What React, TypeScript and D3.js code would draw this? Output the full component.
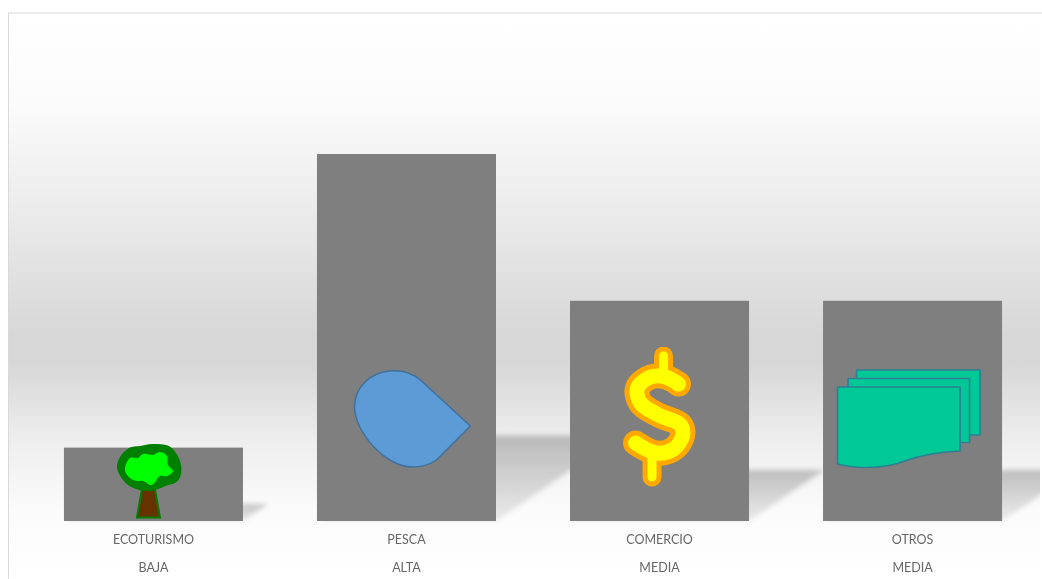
import React from "react";
import * as d3 from "d3";

const categories = ["ECOTURISMO", "PESCA", "COMERCIO", "OTROS"];
const levels = ["BAJA", "ALTA", "MEDIA", "MEDIA"];
const values = [1, 5, 3, 3];

const W = 1042, H = 579;
const BASE = 521;
const x = d3.scaleBand<string>().domain(categories).range([27, 1039]).paddingInner(0.2925).paddingOuter(0.146);
const y = d3.scaleLinear().domain([0, 5]).range([BASE, 154]);

const catmull = d3.line().curve(d3.curveCatmullRom.alpha(0.5));
const catmullClosed = d3.line().curve(d3.curveCatmullRomClosed.alpha(0.5));

// Icon outlines are local to the bar: origin = bar centre on the baseline
const crown: [number, number][] = [[-32.5,-56],[-23.5,-69],[-12.5,-71],[-0.5,-73],[14.5,-71],[23.5,-56],[21.5,-43],[11.5,-39],[-3.5,-34],[-19.5,-37],[-28.5,-45]];
const crownInner: [number, number][] = [[-28.5,-51],[-23.5,-63],[-15.5,-63],[-10.5,-67],[-0.5,-66],[6.5,-69],[13.5,-65],[14.5,-56],[19.5,-50],[13.5,-45],[6.5,-45],[-1.5,-36],[-10.5,-40],[-16.5,-40],[-23.5,-43]];
const dollar: [number, number][] = [[19,-137],[6,-144],[-9,-144],[-22,-133],[-19,-118],[-1,-106],[21,-96],[23,-85],[14,-72],[-3,-68],[-24,-78]];

function Tree() {
  return (
    <g>
      <path d="M-11.5,-32 L1.5,-32 L6.5,-3.5 L-16.5,-3.5 Z" fill="#663300" stroke="#007f00" strokeWidth={2} />
      <path d={catmullClosed(crown)!} fill="#007f00" stroke="#007f00" strokeWidth={8} strokeLinejoin="round" />
      <path d={catmullClosed(crownInner)!} fill="#00ff00" />
    </g>
  );
}
function Drop() {
  return (
    <path
      d="M63.8,-95 L14,-141 C4,-149 -8,-151 -17,-150 C-38,-148 -52,-132 -52,-114 C-52,-90 -22,-54 6,-54 C17,-54 24,-57 30,-61 Z"
      fill="#5b9bd5" stroke="#41719c" strokeWidth={1.5} strokeLinejoin="round"
    />
  );
}
function Dollar() {
  const s = catmull(dollar)!;
  const topBar = "M4,-165 L4,-146";
  const bottomBar = "M-7.5,-68 L-7.5,-44";
  return (
    <g fill="none" strokeLinecap="round" strokeLinejoin="round">
      <path d={`${topBar} ${bottomBar}`} stroke="#ffa800" strokeWidth={19} />
      <path d={s} stroke="#ffa800" strokeWidth={25} />
      <path d={`${topBar} ${bottomBar}`} stroke="#ffff00" strokeWidth={9} />
      <path d={s} stroke="#ffff00" strokeWidth={15} />
    </g>
  );
}
function Docs() {
  const st = { fill: "#00c896", stroke: "#2f7f94", strokeWidth: 1.6, strokeLinejoin: "round" as const };
  return (
    <g>
      <path d="M-56,-151 L67.5,-151 L67.5,-86 L-56,-86 Z" {...st} />
      <path d="M-64.5,-142.5 L57,-142.5 L57,-78.5 L-64.5,-78.5 Z" {...st} />
      <path d="M-75,-134 L47.5,-134 L47.5,-70 C25,-69 10,-66 -5,-61 C-22,-54 -35,-53 -50,-53.5 C-60,-54 -68,-55 -75,-57 Z" {...st} />
    </g>
  );
}
const icons = [Tree, Drop, Dollar, Docs];

export default function App() {
  const bw = x.bandwidth();
  const shadowPoints = (c: string, v: number) => {
    const x0 = x(c)!;
    const h = (BASE - y(v)) * 0.232;
    const dx = h / 0.68;
    return [[x0 + 2, BASE], [x0 + bw, BASE], [x0 + bw + dx, BASE - h], [x0 + 2 + dx, BASE - h]]
      .map((p) => p.join(",")).join(" ");
  };
  return (
    <svg width={W} height={H} style={{ position: "absolute", left: 0, top: 0, display: "block", background: "#fff" }}>
      <defs>
        <linearGradient id="bg" x1="0" y1="13" x2="0" y2="579" gradientUnits="userSpaceOnUse">
          <stop offset="0" stopColor="#ffffff" />
          <stop offset="0.16" stopColor="#fbfbfb" />
          <stop offset="0.34" stopColor="#ececec" />
          <stop offset="0.57" stopColor="#d7d7d7" />
          <stop offset="0.62" stopColor="#d7d7d7" />
          <stop offset="0.755" stopColor="#eeeeee" />
          <stop offset="0.88" stopColor="#fbfbfb" />
          <stop offset="1" stopColor="#ffffff" />
        </linearGradient>
        <linearGradient id="sh" x1="0" y1="0" x2="0" y2="1">
          <stop offset="0" stopColor="#000" stopOpacity={0.22} />
          <stop offset="1" stopColor="#000" stopOpacity={0.07} />
        </linearGradient>
        <filter id="blur" x="-20%" y="-20%" width="140%" height="140%">
          <feGaussianBlur stdDeviation={2.4} />
        </filter>
        <filter id="soft" x="-5%" y="-5%" width="110%" height="110%">
          <feGaussianBlur stdDeviation={0.4} />
        </filter>
        <clipPath id="panel"><rect x={9} y={13} width={1031} height={566} /></clipPath>
      </defs>
      <rect x={9} y={13} width={1031} height={566} fill="url(#bg)" />
      <line x1={8} y1={13} x2={1042} y2={13} stroke="#d9d9d9" strokeWidth={1} />
      <line x1={8.5} y1={13} x2={8.5} y2={579} stroke="#d9d9d9" strokeWidth={1} />
      <g clipPath="url(#panel)">
        {categories.map((c, i) => (
          <polygon key={c} points={shadowPoints(c, values[i])} fill="url(#sh)" filter="url(#blur)" />
        ))}
      </g>
      {categories.map((c, i) => (
        <rect key={c} x={x(c)} y={y(values[i])} width={bw} height={BASE - y(values[i])} fill="#7f7f7f" />
      ))}
      <g filter="url(#soft)">
        {categories.map((c, i) => {
          const Icon = icons[i];
          return (
            <g key={c} transform={`translate(${x(c)! + bw / 2},${BASE})`}>
              <Icon />
            </g>
          );
        })}
      </g>
      <g fontFamily="Lato, sans-serif" fontSize={12.5} fill="#666666" textAnchor="middle" filter="url(#soft)">
        {categories.map((c, i) => (
          <g key={c}>
            <text x={x(c)! + bw / 2} y={543.5}>{c}</text>
            <text x={x(c)! + bw / 2} y={571.5}>{levels[i]}</text>
          </g>
        ))}
      </g>
    </svg>
  );
}
